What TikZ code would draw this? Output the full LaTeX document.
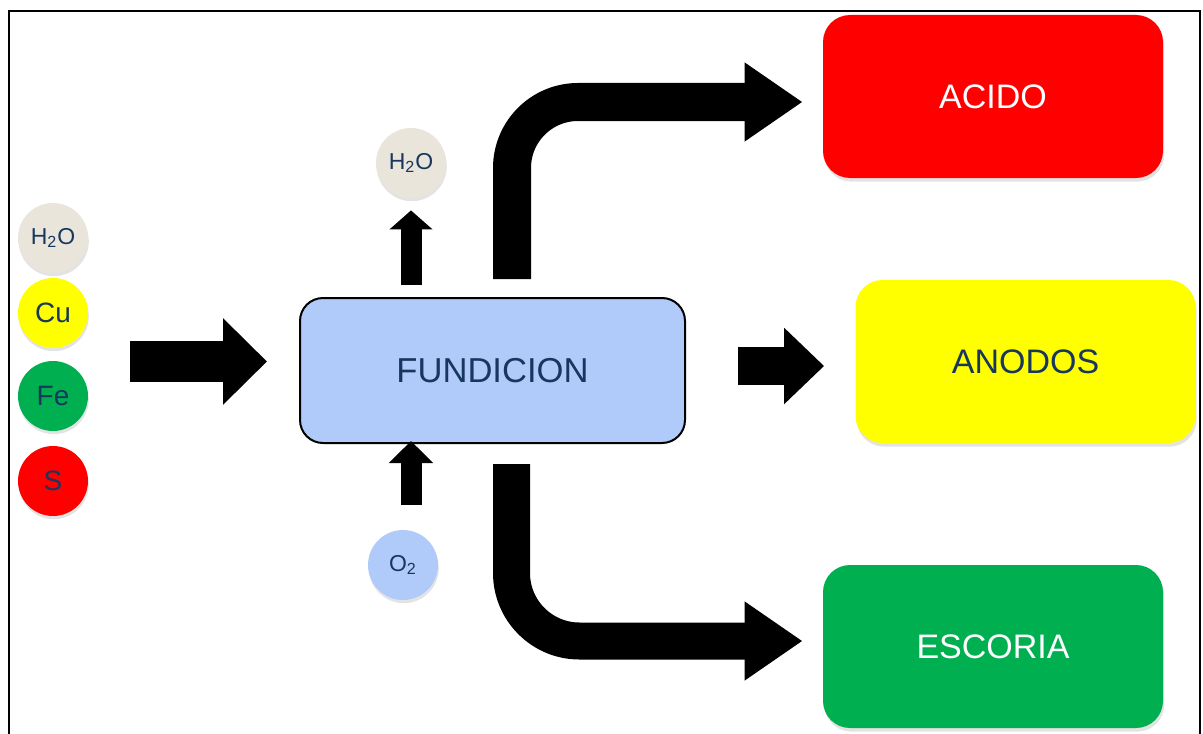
\documentclass[tikz,border=0pt]{standalone}
\usepackage{fontspec}
\setmainfont{Liberation Sans}
\usetikzlibrary{arrows.meta,shadows}
\definecolor{inkblue}{HTML}{17375E}
\definecolor{beige}{HTML}{E9E5DB}
\definecolor{paleblue}{HTML}{B0CAFA}
\definecolor{slaggreen}{HTML}{00B050}
\definecolor{anodeyellow}{HTML}{FFFF00}
\definecolor{acidred}{HTML}{FF0000}

\begin{document}
\begin{tikzpicture}[x=0.5pt,y=-0.5pt,
    ball/.style={circle,minimum size=35pt,inner sep=0pt,text=inkblue,
      font=\fontsize{14}{16}\selectfont,
      drop shadow={shadow xshift=0.4pt,shadow yshift=-1.6pt,opacity=0.22}},
    small/.style={font=\fontsize{11.5}{13}\selectfont},
    product/.style={rounded corners=13.5pt,minimum width=170pt,minimum height=81.5pt,
      font=\fontsize{17}{20}\selectfont,
      drop shadow={shadow xshift=0.6pt,shadow yshift=-1.8pt,opacity=0.22}},
    fat/.style n args={3}{line width=#1,-{Triangle[length=#2,width=#3]}}]
  \useasboundingbox (0,0) rectangle (1203,733);
  % frame
  \draw[line width=1pt] (8.5,745) -- (8.5,11.5) -- (1200,11.5) -- (1200,745);
  % feed
  \node[ball,small,fill=beige] (h2oin) at (53,238) {H\textsubscript{2}O};
  \node[ball,fill=anodeyellow] (cu) at (53,313) {Cu};
  \node[ball,fill=slaggreen] (fe) at (53,396) {Fe};
  \node[ball,fill=acidred] (s) at (53,481) {S};
  \coordinate (feed) at (130,361.5);
  % smelter
  \node[draw,line width=1pt,fill=paleblue,rounded corners=11.5pt,minimum width=192.5pt,
    minimum height=72.5pt,text=inkblue,font=\fontsize{17.3}{20}\selectfont] (fund) at (492.5,370.5) {FUNDICION};
  \node[ball,small,fill=beige] (h2oout) at (411,163) {H\textsubscript{2}O};
  \node[ball,small,fill=paleblue] (o2) at (403,565) {O\textsubscript{2}};
  % three products
  \node[product,fill=acidred,text=white] (acido) at (993,96.5) {ACIDO};
  \node[product,fill=anodeyellow,text=inkblue] (anodos) at (1025.5,361.5) {ANODOS};
  \node[product,fill=slaggreen,text=white] (escoria) at (993,646.5) {ESCORIA};
  % arrows
  \draw[fat={20.5pt}{22pt}{42pt},shorten >=16pt] (feed) -- (feed -| fund.west);
  \draw[fat={10.5pt}{9.5pt}{21pt},shorten <=6pt,shorten >=6pt] (h2oout |- fund.north) -- (h2oout.south);
  \draw[fat={10.5pt}{11pt}{21.5pt},shorten <=12.5pt,shorten >=-1.5pt] ([xshift=4pt]o2.north) -- ([xshift=4pt]o2.north |- fund.south);
  \draw[fat={19pt}{29pt}{37.5pt},rounded corners=33pt,shorten <=9pt,shorten >=10pt]
    ([xshift=9.75pt]fund.north) |- ([yshift=-2.75pt]acido.west);
  \draw[fat={19pt}{20pt}{37pt},shorten <=26pt,shorten >=15.5pt]
    ([yshift=2.25pt]fund.east) -- ([yshift=2.25pt]fund.east -| anodos.west);
  \draw[fat={18.5pt}{29pt}{37.5pt},rounded corners=34pt,shorten <=10pt,shorten >=10pt]
    ([xshift=9.5pt]fund.south) |- ([yshift=2.75pt]escoria.west);
\end{tikzpicture}
\end{document}
